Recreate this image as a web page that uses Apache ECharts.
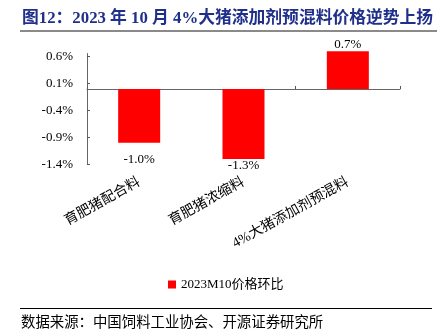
<!DOCTYPE html>
<html>
<head>
<meta charset="utf-8">
<script src="https://cdn.jsdelivr.net/npm/echarts@6/dist/echarts.min.js"></script>
<style>
html,body{margin:0;padding:0;background:#fff;}
#c{width:437px;height:335px;}
</style>
</head>
<body>
<div id="c"></div>
<script>
const titleText = '图12：2023 年 10 月 4%大猪添加剂预混料价格逆势上扬';
const sourceText = '数据来源：中国饲料工业协会、开源证券研究所';
const categories = ['育肥猪配合料', '育肥猪浓缩料', '4%大猪添加剂预混料'];
const seriesName = '2023M10价格环比';
const values = [-1.0, -1.3, 0.7];
const yTicks = [-1.4, -0.9, -0.4, 0.1, 0.6];

const serif = '"Liberation Serif", "Times New Roman", "Noto Sans CJK SC", serif';
const labelDist = [10, 0, 0];

const chart = echarts.init(document.getElementById('c'), null, {renderer: 'canvas'});
chart.setOption({
  animation: false,
  backgroundColor: '#fff',
  grid: {left: 87, right: 37, top: 53.5, bottom: 170.7, containLabel: false},
  legend: {
    data: [seriesName],
    left: 163, top: 273,
    itemWidth: 8, itemHeight: 8, itemGap: 5,
    icon: 'rect',
    textStyle: {fontFamily: serif, fontSize: 13, color: '#000'}
  },
  xAxis: [
    {
      type: 'category', data: categories,
      axisLine: {onZero: true, lineStyle: {color: '#666', width: 1}},
      axisTick: {show: true, inside: true, length: 3, lineStyle: {color: '#555'}},
      axisLabel: {show: false}
    },
    {
      type: 'category', data: categories, position: 'bottom',
      axisLine: {show: false, onZero: false},
      axisTick: {show: false},
      axisLabel: {
        show: true, rotate: 29, margin: 17, interval: 0,
        fontFamily: serif, fontSize: 14, color: '#000'
      }
    }
  ],
  yAxis: {
    type: 'value', min: -1.4, max: 0.66,
    splitLine: {show: false},
    axisLine: {show: true, lineStyle: {color: '#666'}},
    axisTick: {show: true, inside: true, length: 3, customValues: yTicks, lineStyle: {color: '#555'}},
    axisLabel: {
      customValues: yTicks, margin: 14,
      fontFamily: serif, fontSize: 13, color: '#000',
      formatter: v => v.toFixed(1) + '%'
    }
  },
  series: [{
    name: seriesName, type: 'bar', xAxisIndex: 0,
    barWidth: 42, clip: false,
    itemStyle: {color: '#FF0000'},
    data: values.map((v, i) => ({
      value: v,
      label: {
        show: true,
        position: v < 0 ? 'bottom' : 'top',
        distance: labelDist[i],
        fontFamily: serif, fontSize: 13, color: '#000',
        formatter: p => p.value.toFixed(1) + '%'
      }
    }))
  }],
  graphic: [
    {type: 'text', left: 22, top: 10, style: {text: titleText, font: 'bold 16.8px ' + serif, fill: '#1f2f8a'}},
    {type: 'line', shape: {x1: 20, y1: 31, x2: 437, y2: 31}, style: {stroke: '#8a8a8a', lineWidth: 2}},
    {type: 'line', shape: {x1: 20, y1: 308.5, x2: 432, y2: 308.5}, style: {stroke: '#000', lineWidth: 1.2}},
    {type: 'text', left: 21, top: 314, style: {text: sourceText, font: '14.4px "Noto Sans CJK SC", sans-serif', fill: '#000'}}
  ]
});
</script>
</body>
</html>
